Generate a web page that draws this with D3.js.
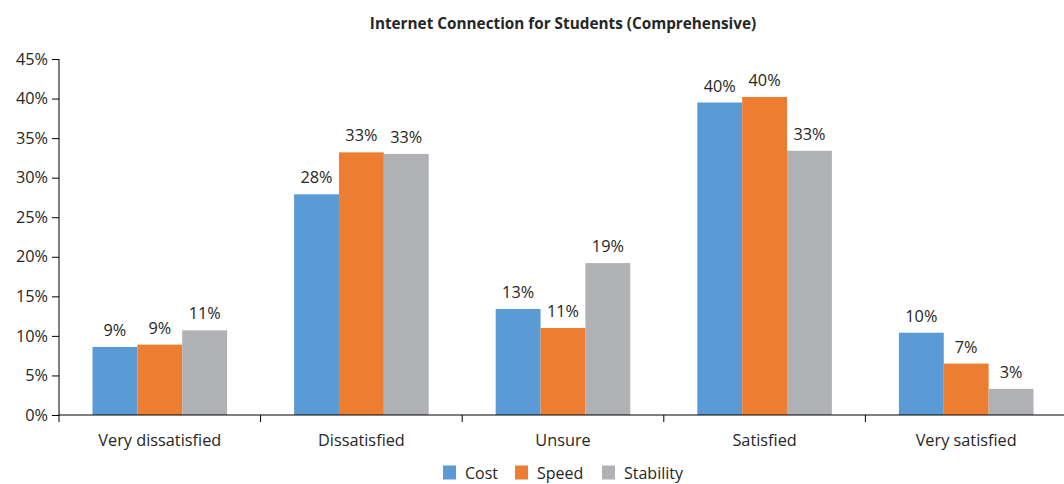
<!DOCTYPE html>
<html>
<head>
<meta charset="utf-8">
<script src="https://cdn.jsdelivr.net/npm/d3@7"></script>
<style>
  html, body { margin: 0; padding: 0; background: #fff; }
  svg { display: block; }
  text { font-family: "Open Sans", "Noto Sans", sans-serif; fill: #262626; }
</style>
</head>
<body>
<svg id="chart" width="1064" height="484"></svg>
<script>
// Survey responses: share of students per satisfaction level
const categories = ["Very dissatisfied", "Dissatisfied", "Unsure", "Satisfied", "Very satisfied"];
const seriesNames = ["Cost", "Speed", "Stability"];
const cost      = [8.6, 27.9, 13.4, 39.5, 10.4];
const speed     = [8.9, 33.2, 11.0, 40.2, 6.5];
const stability = [10.7, 33.0, 19.2, 33.4, 3.3];
const yTicks = [0, 5, 10, 15, 20, 25, 30, 35, 40, 45];
const colors = ["#5B9BD5", "#ED7D31", "#B0B1B4"];

const seriesValues = [cost, speed, stability];
const FONT = 16.3;

const svg = d3.select("#chart");
const margin = { left: 59, right: -3, top: 59, bottom: 69 };
const width = 1064, height = 484;
const plotW = width - margin.left - margin.right;
const plotH = height - margin.top - margin.bottom;

const g = svg.append("g").attr("transform", `translate(${margin.left},${margin.top})`);

const x = d3.scaleBand().domain(categories).range([0, plotW]).paddingInner(0).paddingOuter(0);
const xInner = d3.scaleBand().domain(seriesNames).range([33.5, x.bandwidth() - 33.5]).padding(0);
const y = d3.scaleLinear().domain([0, 45]).range([plotH, 0]);

// Bars with value labels
categories.forEach((cat, ci) => {
  const grp = g.append("g").attr("transform", `translate(${x(cat)},0)`);
  seriesNames.forEach((s, si) => {
    const v = seriesValues[si][ci];
    grp.append("rect")
      .attr("x", xInner(s))
      .attr("y", y(v))
      .attr("width", xInner.bandwidth())
      .attr("height", y(0) - y(v))
      .attr("fill", colors[si]);
    grp.append("text")
      .attr("x", xInner(s) + xInner.bandwidth() / 2)
      .attr("y", y(v) - 11)
      .attr("text-anchor", "middle")
      .attr("font-size", FONT)
      .text(Math.round(v) + "%");
  });
});

// Y axis
const yAxis = d3.axisLeft(y).tickValues(yTicks).tickSize(7).tickPadding(4)
  .tickFormat(d => d + "%");
const yg = g.append("g").call(yAxis);
yg.select(".domain").attr("stroke", "#000").attr("d", `M0,${plotH + 7}V0`);
yg.selectAll(".tick line").attr("stroke", "#000");
yg.selectAll(".tick text").attr("font-size", FONT).attr("fill", "#262626")
  .style("font-family", "'Open Sans', 'Noto Sans', sans-serif");

// X axis: baseline with boundary ticks between categories
const xg = g.append("g").attr("transform", `translate(0,${plotH})`);
xg.append("line").attr("x1", 0).attr("x2", plotW).attr("stroke", "#000");
categories.slice(1).forEach(cat => {
  xg.append("line").attr("x1", x(cat)).attr("x2", x(cat))
    .attr("y1", 0).attr("y2", 7).attr("stroke", "#000");
});
categories.forEach(cat => {
  xg.append("text")
    .attr("x", x(cat) + x.bandwidth() / 2)
    .attr("y", 31)
    .attr("text-anchor", "middle")
    .attr("font-size", FONT)
    .text(cat);
});

// Title
svg.append("text")
  .attr("x", 563).attr("y", 29)
  .attr("text-anchor", "middle")
  .attr("font-size", 15.3).attr("font-weight", "bold")
  .text("Internet Connection for Students (Comprehensive)");

// Legend
const legendX = [443, 515, 602];
const lg = svg.append("g");
seriesNames.forEach((s, i) => {
  lg.append("rect").attr("x", legendX[i]).attr("y", 465.5)
    .attr("width", 13).attr("height", 14).attr("fill", colors[i]);
  lg.append("text").attr("x", legendX[i] + 22).attr("y", 478.5)
    .attr("font-size", 16).text(s);
});
</script>
</body>
</html>
